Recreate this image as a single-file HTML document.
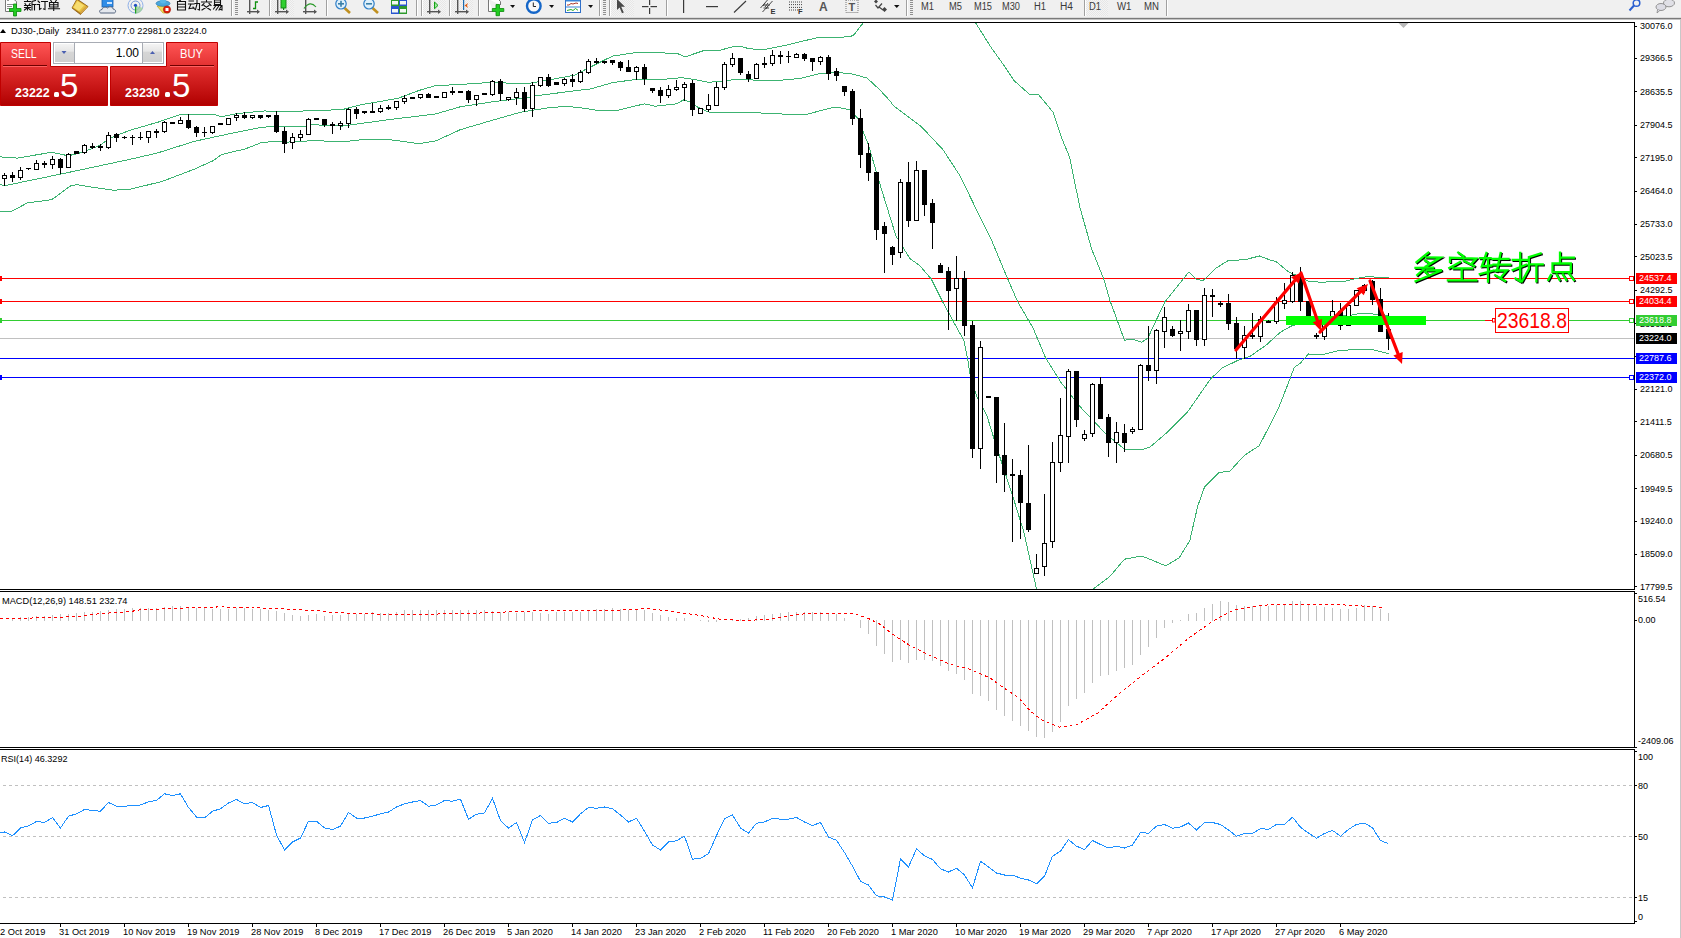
<!DOCTYPE html>
<html><head><meta charset="utf-8"><title>DJ30 Daily</title>
<style>
html,body{margin:0;padding:0;background:#fff;}
body{width:1681px;height:938px;overflow:hidden;position:relative;font-family:"Liberation Sans",sans-serif;}
svg{position:absolute;left:0;top:0;}
</style></head><body>
<svg width="1681" height="938" viewBox="0 0 1681 938">
<rect x="0" y="0" width="1681" height="18" fill="#f0f0f0"/>
<defs><pattern id="chk" width="2" height="2" patternUnits="userSpaceOnUse"><rect width="2" height="2" fill="#f4f4f4"/><rect width="1" height="1" fill="#e6e6e6"/><rect x="1" y="1" width="1" height="1" fill="#e6e6e6"/></pattern></defs>
<rect x="270" y="0" width="24" height="16" fill="url(#chk)"/>
<rect x="422" y="0" width="24" height="16" fill="url(#chk)"/>
<rect x="450" y="0" width="23" height="16" fill="url(#chk)"/>
<rect x="611" y="0" width="23" height="16" fill="url(#chk)"/>
<rect x="1085" y="0" width="23" height="16" fill="url(#chk)"/>
<rect x="231" y="0" width="1" height="16" fill="#a0a0a0"/>
<rect x="232" y="0" width="1" height="16" fill="#ffffff"/>
<rect x="269" y="0" width="1" height="16" fill="#a0a0a0"/>
<rect x="270" y="0" width="1" height="16" fill="#ffffff"/>
<rect x="326" y="0" width="1" height="16" fill="#a0a0a0"/>
<rect x="327" y="0" width="1" height="16" fill="#ffffff"/>
<rect x="416" y="0" width="1" height="16" fill="#a0a0a0"/>
<rect x="417" y="0" width="1" height="16" fill="#ffffff"/>
<rect x="421" y="0" width="1" height="16" fill="#a0a0a0"/>
<rect x="422" y="0" width="1" height="16" fill="#ffffff"/>
<rect x="449" y="0" width="1" height="16" fill="#a0a0a0"/>
<rect x="450" y="0" width="1" height="16" fill="#ffffff"/>
<rect x="478" y="0" width="1" height="16" fill="#a0a0a0"/>
<rect x="479" y="0" width="1" height="16" fill="#ffffff"/>
<rect x="599" y="0" width="1" height="16" fill="#a0a0a0"/>
<rect x="600" y="0" width="1" height="16" fill="#ffffff"/>
<rect x="609" y="0" width="1" height="16" fill="#a0a0a0"/>
<rect x="610" y="0" width="1" height="16" fill="#ffffff"/>
<rect x="666" y="0" width="1" height="16" fill="#a0a0a0"/>
<rect x="667" y="0" width="1" height="16" fill="#ffffff"/>
<rect x="906" y="0" width="1" height="16" fill="#a0a0a0"/>
<rect x="907" y="0" width="1" height="16" fill="#ffffff"/>
<rect x="1084" y="0" width="1" height="16" fill="#a0a0a0"/>
<rect x="1085" y="0" width="1" height="16" fill="#ffffff"/>
<rect x="1166" y="0" width="1" height="16" fill="#a0a0a0"/>
<rect x="1167" y="0" width="1" height="16" fill="#ffffff"/>
<rect x="235" y="0" width="3" height="1" fill="#909090"/>
<rect x="235" y="2" width="3" height="1" fill="#909090"/>
<rect x="235" y="4" width="3" height="1" fill="#909090"/>
<rect x="235" y="6" width="3" height="1" fill="#909090"/>
<rect x="235" y="8" width="3" height="1" fill="#909090"/>
<rect x="235" y="10" width="3" height="1" fill="#909090"/>
<rect x="235" y="12" width="3" height="1" fill="#909090"/>
<rect x="235" y="14" width="3" height="1" fill="#909090"/>
<rect x="603" y="0" width="3" height="1" fill="#909090"/>
<rect x="603" y="2" width="3" height="1" fill="#909090"/>
<rect x="603" y="4" width="3" height="1" fill="#909090"/>
<rect x="603" y="6" width="3" height="1" fill="#909090"/>
<rect x="603" y="8" width="3" height="1" fill="#909090"/>
<rect x="603" y="10" width="3" height="1" fill="#909090"/>
<rect x="603" y="12" width="3" height="1" fill="#909090"/>
<rect x="603" y="14" width="3" height="1" fill="#909090"/>
<rect x="910" y="0" width="3" height="1" fill="#909090"/>
<rect x="910" y="2" width="3" height="1" fill="#909090"/>
<rect x="910" y="4" width="3" height="1" fill="#909090"/>
<rect x="910" y="6" width="3" height="1" fill="#909090"/>
<rect x="910" y="8" width="3" height="1" fill="#909090"/>
<rect x="910" y="10" width="3" height="1" fill="#909090"/>
<rect x="910" y="12" width="3" height="1" fill="#909090"/>
<rect x="910" y="14" width="3" height="1" fill="#909090"/>
<rect x="0" y="17" width="1681" height="1" fill="#dcdcdc"/>
<rect x="0" y="18" width="1681" height="1" fill="#7a7a7a"/>
<rect x="0" y="19" width="1681" height="1" fill="#c4c4c4"/>
<rect x="0" y="20" width="1681" height="2" fill="#ffffff"/>
<path d="M5.5,-1 H13.5 L16.5,1.5 V11.5 H5.5 Z" fill="#fdfdfd" stroke="#7a7a7a" stroke-width="1"/>
<rect x="7" y="0" width="2" height="1" fill="#999"/><rect x="7" y="4" width="6" height="1" fill="#8a8a8a"/><rect x="7" y="6" width="5" height="1" fill="#8a8a8a"/><rect x="7" y="8" width="3" height="1" fill="#8a8a8a"/>
<path d="M13.5,4 H16.5 V8.5 H21 V11.5 H16.5 V16 H13.5 V11.5 H9.5 V8.5 H13.5 Z" fill="#22cc22" stroke="#0a8a0a" stroke-width="0.8"/>
<g stroke="#111" stroke-width="1.1" fill="none" stroke-linecap="square"><path d="M24.5,1.5 H30.5 M27.5,0 V1.5 M25,3.5 L26,5 M30,3.5 L29,5 M24.5,5.5 H30.5 M24.5,7.5 H30.5 M27.5,5.5 V10 M27,8 L24.5,10 M28,8 L30.5,10"/><path d="M35.5,0.5 L32,1.5 V10 M32,4.5 H36 M34.5,4.5 V10"/><path d="M38,1 L39.5,2.5 M37.5,4.5 H39.5 V9.5 L41,8.5 M41.5,1.5 H47.5 M45,1.5 V9.5 L43.5,9"/><path d="M50.5,0 L51.5,1.5 M56.5,0 L55.5,1.5 M49.5,2.5 H58 V7 H49.5 Z M49.5,4.7 H58 M53.7,2.5 V10.5 M48.5,8.7 H59.5"/></g>
<path d="M72,8 L77,-1 L88,6.5 L80.5,14.5 Z" fill="#b07818" stroke="#8a5a10" stroke-width="0.8"/>
<path d="M72.5,7.5 L77,0 L86.5,6 L80,12.5 Z" fill="#e8c040"/>
<path d="M73.5,7.5 L77.5,1 L84,5.5 L79,11 Z" fill="#f6dc70"/>
<path d="M80,12.5 L86.5,6 L88,7 L81,14 Z" fill="#d8a848"/>
<rect x="102" y="-1" width="11" height="8" fill="#2f8de8" stroke="#1760b0" stroke-width="0.8"/><rect x="107" y="2" width="5" height="2" fill="#cfe6ff"/>
<path d="M101,13 C99,13 99,9.5 102,9.5 C102.5,7 106,6.5 107.5,8 C109,6 113,6.5 113,9 C116,9 116.5,13 114,13 Z" fill="#e4e8ee" stroke="#55657f" stroke-width="1"/>
<circle cx="135.5" cy="5.5" r="7.5" fill="none" stroke="#8fb0e8" stroke-width="1"/>
<circle cx="135.5" cy="5.5" r="4.5" fill="none" stroke="#6f95d8" stroke-width="1"/>
<path d="M135.5,5.5 L135.5,13.5 A8,8 0 0 0 143,8 Z" fill="#9ccf9c" opacity="0.8"/>
<rect x="135" y="5" width="1.2" height="8.5" fill="#22a022"/><circle cx="135.5" cy="5.3" r="1.6" fill="#2050c0"/>
<path d="M157,6 L166,6 L169,13 L163,13 Z" fill="#f2dc5a" stroke="#c0a020" stroke-width="0.7"/>
<ellipse cx="163" cy="3.5" rx="7" ry="2.8" fill="#4aa8dc" stroke="#2a78b0" stroke-width="0.7"/><ellipse cx="163" cy="1" rx="3" ry="2.5" fill="#5ab8e8"/>
<circle cx="167" cy="9.5" r="3.6" fill="#e02010" stroke="#a01000" stroke-width="0.6"/><rect x="165.5" y="8" width="3" height="3" fill="#fff"/>
<g stroke="#111" stroke-width="1.1" fill="none" stroke-linecap="square"><path d="M180.5,0 L179.5,1 M177.5,1.5 H185.5 V10 H177.5 Z M177.5,4.2 H185.5 M177.5,7 H185.5"/><path d="M189,1 H193.5 M188.5,4 H194 M191,4 L189,8.5 L194,8 M193,7 L194.5,9 M195,3.5 H199.5 V10 L198,9.5 M197,0.5 V4 L195.5,9.5"/><path d="M206.5,0 V1.5 M201.5,2 H211.5 M204,3.5 L202,5.5 M209,3.5 L211,5.5 M204,5.5 L210.5,10 M209,5.5 L202,10"/><path d="M214.5,0 H220.5 V4.5 H214.5 Z M214.5,2.3 H220.5 M214,5.5 H222 V10 L220.5,9.5 M216,5.5 L213.5,9 M218.5,6.5 L216,10 M221,6.5 L219,10"/></g>
<rect x="249" y="0" width="1.4" height="14" fill="#555"/><rect x="247" y="11" width="12" height="1.4" fill="#555"/><path d="M257,9.5 L260,11.7 L257,14 Z" fill="#555"/>
<path d="M253,8.5 H255.5 V2 H258" fill="none" stroke="#109010" stroke-width="1.3"/>
<rect x="277" y="0" width="1.4" height="14" fill="#555"/><rect x="275" y="11" width="13" height="1.4" fill="#555"/><path d="M286,9.5 L289,11.7 L286,14 Z" fill="#555"/>
<rect x="281" y="-1" width="5" height="9" fill="#30d030" stroke="#108010" stroke-width="0.9"/><rect x="283" y="8" width="1.2" height="2" fill="#108010"/>
<rect x="305" y="0" width="1.4" height="14" fill="#555"/><rect x="303" y="11" width="13" height="1.4" fill="#555"/><path d="M314,9.5 L317,11.7 L314,14 Z" fill="#555"/>
<path d="M304,8.5 Q310,0 316,7" fill="none" stroke="#2a9a2a" stroke-width="1.1"/>
<line x1="344.5" y1="8" x2="350.0" y2="13" stroke="#c09020" stroke-width="2.6"/>
<circle cx="341" cy="3.8" r="5.2" fill="#dff0fb" stroke="#2f7fc8" stroke-width="1.2"/>
<rect x="338.0" y="3" width="6" height="1.6" fill="#3a7fa8"/>
<rect x="340.2" y="0.8" width="1.6" height="6" fill="#3a7fa8"/>
<line x1="372.5" y1="8" x2="378.0" y2="13" stroke="#c09020" stroke-width="2.6"/>
<circle cx="369" cy="3.8" r="5.2" fill="#dff0fb" stroke="#2f7fc8" stroke-width="1.2"/>
<rect x="366.0" y="3" width="6" height="1.6" fill="#3a7fa8"/>
<rect x="391" y="-1" width="8" height="7" fill="#2e9a2e"/><rect x="399" y="-1" width="8" height="7" fill="#2a56d0"/><rect x="391" y="6" width="8" height="8" fill="#2a56d0"/><rect x="399" y="6" width="8" height="8" fill="#2e9a2e"/>
<rect x="392" y="1" width="6" height="3.5" fill="#f4f8f4"/>
<rect x="400" y="1" width="6" height="3.5" fill="#f4f8f4"/>
<rect x="392" y="9" width="6" height="3.5" fill="#f4f8f4"/>
<rect x="400" y="9" width="6" height="3.5" fill="#f4f8f4"/>
<rect x="429" y="0" width="1.4" height="14" fill="#555"/><rect x="427" y="11" width="13" height="1.4" fill="#555"/><path d="M438,9.5 L441,11.7 L438,14 Z" fill="#555"/>
<path d="M434.5,2 L438,5.4 L434.5,8.8 Z" fill="#9be89b" stroke="#12a012" stroke-width="1"/>
<rect x="457" y="0" width="1.4" height="14" fill="#555"/><rect x="455" y="11" width="13" height="1.4" fill="#555"/><path d="M466,9.5 L469,11.7 L466,14 Z" fill="#555"/>
<rect x="463" y="0" width="1.2" height="10" fill="#1a6ab0"/><path d="M464.5,5.4 L468,3 L467,5.4 L469,5.4 L467,5.4 L468,8 Z" fill="#e05a10"/>
<path d="M488.5,-1 V11.5 H493 M488.5,-1 H498 L500.5,1.5 V5" fill="#fff" stroke="#777" stroke-width="1"/>
<path d="M496,4.5 H499.5 V8.5 H503.8 V11.5 H499.5 V15.7 H496 V11.5 H492.3 V8.5 H496 Z" fill="#22cc22" stroke="#0a8a0a" stroke-width="0.8"/>
<path d="M510,5 H515 L512.8,8 Z" fill="#111"/>
<path d="M549,5 H554 L551.8,8 Z" fill="#111"/>
<path d="M588,5 H593 L590.8,8 Z" fill="#111"/>
<circle cx="533.8" cy="6" r="6.8" fill="#f8f8f8" stroke="#1566c8" stroke-width="2.4"/>
<path d="M533.3,2.5 V6.5 H536" fill="none" stroke="#222" stroke-width="1"/>
<rect x="565.5" y="-1" width="15" height="13.5" fill="#fff" stroke="#2f6fc8" stroke-width="1"/><rect x="566" y="-1" width="14" height="2.5" fill="#3a86d8"/><rect x="566" y="6.5" width="14" height="1" fill="#3a86d8"/>
<path d="M567,5 L569,5 L571,3.5 L573,4 L576,3 L578,3.5" fill="none" stroke="#a02010" stroke-width="0.9"/>
<path d="M567,10.5 L569,10 L571,9.5 L573,10.5 L575.5,8.5 L578,10.3" fill="none" stroke="#10a010" stroke-width="0.9"/>
<path d="M617,-1 L625,6.7 L621.2,6.7 L623.8,12.6 L622,13.3 L619.6,7.6 L617,10 Z" fill="#4a4a4a"/>
<rect x="642" y="6" width="6.5" height="1.2" fill="#3a3a3a"/><rect x="650.5" y="6" width="6.5" height="1.2" fill="#3a3a3a"/><rect x="649" y="0" width="1.2" height="5" fill="#3a3a3a"/><rect x="649" y="8" width="1.2" height="6" fill="#3a3a3a"/>
<rect x="683" y="0" width="1.2" height="13" fill="#3a3a3a"/>
<rect x="706" y="6" width="12" height="1.2" fill="#3a3a3a"/>
<line x1="734" y1="12.5" x2="746" y2="1" stroke="#3a3a3a" stroke-width="1.1"/>
<path d="M760.5,8 L767.5,0 M762.5,12 L772.5,1 M763,5 L770,5 M763.5,8 L769,8 M765,3 L763,6 M768,3 L765,7 M768,6 L766,9" stroke="#444" stroke-width="1" fill="none"/><text x="770.5" y="14" font-family="Liberation Sans" font-size="7.5" font-weight="bold" fill="#333">E</text>
<path d="M789,2 H803 M789,4.6 H803 M789,7.4 H803 M789,10 H798" stroke="#444" stroke-width="1" stroke-dasharray="1,1" fill="none"/><text x="798" y="14" font-family="Liberation Sans" font-size="7.5" font-weight="bold" fill="#333">F</text>
<text x="819" y="10.7" font-family="Liberation Sans" font-size="12" font-weight="bold" fill="#555">A</text>
<rect x="846" y="0" width="12" height="12.5" fill="none" stroke="#777" stroke-width="1" stroke-dasharray="1,1"/><text x="848.5" y="10.5" font-family="Liberation Sans" font-size="11" font-weight="bold" fill="#555">T</text>
<path d="M874,1.5 L876,-0.5 L878,1.5 L876,3.5 Z M882,9.5 L884.5,7 L887,9.5 L884.5,12 Z" fill="#444"/><path d="M875.5,5 L878,8 L882,3.5 M879,7 L883,10" stroke="#444" stroke-width="1.2" fill="none"/>
<path d="M894,5 H899.5 L896.75,8 Z" fill="#111"/>
<g font-family="'Liberation Sans', sans-serif" font-size="10" fill="#3a3a3a">
<text x="921" y="10.3" textLength="13.0" lengthAdjust="spacingAndGlyphs">M1</text>
<text x="949" y="10.3" textLength="13.0" lengthAdjust="spacingAndGlyphs">M5</text>
<text x="974" y="10.3" textLength="18.0" lengthAdjust="spacingAndGlyphs">M15</text>
<text x="1002" y="10.3" textLength="18.0" lengthAdjust="spacingAndGlyphs">M30</text>
<text x="1034" y="10.3" textLength="12.0" lengthAdjust="spacingAndGlyphs">H1</text>
<text x="1060" y="10.3" textLength="13.0" lengthAdjust="spacingAndGlyphs">H4</text>
<text x="1089" y="10.3" textLength="12.0" lengthAdjust="spacingAndGlyphs">D1</text>
<text x="1117" y="10.3" textLength="14.5" lengthAdjust="spacingAndGlyphs">W1</text>
<text x="1144" y="10.3" textLength="15.0" lengthAdjust="spacingAndGlyphs">MN</text>
</g>
<circle cx="1636.5" cy="3" r="3.3" fill="none" stroke="#2a5fd0" stroke-width="1.5"/><line x1="1634" y1="5.5" x2="1629.5" y2="10.5" stroke="#2a5fd0" stroke-width="2"/>
<ellipse cx="1669" cy="3" rx="5.5" ry="3.8" fill="#e0e0e6" stroke="#888" stroke-width="0.9"/><ellipse cx="1661" cy="7" rx="5" ry="3.5" fill="#dcdce4" stroke="#888" stroke-width="0.9"/><path d="M1657.5,10 L1657,13 L1660,10.3" fill="#dcdce4" stroke="#888" stroke-width="0.8"/>
<defs><clipPath id="mc"><rect x="0" y="23" width="1634" height="566"/></clipPath><clipPath id="macdc"><rect x="0" y="592" width="1634" height="155"/></clipPath><clipPath id="rsic"><rect x="0" y="750" width="1634" height="173"/></clipPath></defs>
<rect x="0" y="278" width="1634" height="1" fill="#ff0000"/>
<rect x="1629.5" y="276.5" width="4" height="4" fill="#fff" stroke="#ff0000" stroke-width="1"/>
<rect x="0" y="276" width="2" height="5" fill="#ff0000"/>
<rect x="0" y="301" width="1634" height="1" fill="#ff0000"/>
<rect x="1629.5" y="299.5" width="4" height="4" fill="#fff" stroke="#ff0000" stroke-width="1"/>
<rect x="0" y="299" width="2" height="5" fill="#ff0000"/>
<rect x="0" y="320" width="1634" height="1" fill="#32cd32"/>
<rect x="1629.5" y="318.5" width="4" height="4" fill="#fff" stroke="#32cd32" stroke-width="1"/>
<rect x="0" y="318" width="2" height="5" fill="#32cd32"/>
<rect x="0" y="338" width="1634" height="1" fill="#c0c0c0"/>
<rect x="0" y="358" width="1634" height="1" fill="#0000ff"/>
<rect x="0" y="377" width="1634" height="1" fill="#0000ff"/>
<rect x="1629.5" y="375.5" width="4" height="4" fill="#fff" stroke="#0000ff" stroke-width="1"/>
<rect x="0" y="375" width="2" height="5" fill="#0000ff"/>
<g clip-path="url(#mc)" fill="none" stroke="#3cb371" stroke-width="1" shape-rendering="crispEdges">
<polyline points="-1.5,156.8 17.1,158.1 51.7,152.3 68.3,155.8 82.4,152.3 100.3,145.3 106.7,140.2 115.7,135.7 130.5,130.1 158.2,122.1 179.5,114.7 214.7,114.7 221.1,116.8 237.1,113.6 263.7,111.0 297.5,111.2 342.3,109.6 360.5,104.8 397.8,98.4 419.1,90.4 435.1,85.8 473.1,83.7 490.2,82.3 526.4,83.9 547.8,80.1 574.4,75.3 590.4,67.0 612.5,56.1 633.8,52.9 663.6,52.9 678.6,54.0 685.0,56.9 703.1,50.8 719.1,50.5 731.9,47.0 742.2,46.8 748.6,48.6 762.5,50.0 783.8,45.7 815.8,38.0 839.2,37.6 853.1,35.8 862.7,23.5 880.5,0.5 920.5,-29.5 960.5,-4.5 975.4,22.5 990.4,46.4 1005.3,67.3 1014.2,80.7 1029.2,94.1 1038.1,94.1 1053.0,112.1 1062.0,138.9 1069.5,156.8 1079.9,207.5 1091.8,249.4 1103.8,279.2 1109.8,300.1 1124.5,340.2 1132.9,339.1 1141.5,342.3 1147.9,338.0 1164.9,301.8 1182.0,280.5 1188.8,272.0 1195.7,278.9 1202.7,280.7 1208.2,276.1 1216.5,267.8 1227.6,260.9 1245.7,259.5 1259.5,256.0 1270.6,260.2 1276.1,261.6 1288.6,272.0 1301.1,277.5 1309.4,281.7 1320.5,282.1 1342.7,281.7 1359.3,277.9 1367.0,276.6 1377.3,277.2 1388.8,277.9"/>
<polyline points="-1.5,184.3 5.0,185.6 60.7,174.1 130.5,159.2 157.1,153.1 194.5,141.3 226.4,134.4 258.4,128.0 274.4,125.9 290.5,126.8 304.0,126.7 312.5,124.7 342.3,126.1 360.5,123.5 392.4,119.2 435.5,114.0 460.3,106.8 494.5,101.5 526.4,97.7 537.1,95.6 558.4,92.9 574.4,90.8 590.4,89.0 612.5,82.7 633.8,79.7 644.5,79.0 660.5,79.7 681.8,77.6 697.8,80.1 708.4,82.2 719.1,81.7 727.6,80.1 740.5,79.7 776.3,80.6 799.8,78.5 819.0,73.7 837.1,72.6 849.9,73.5 866.9,77.9 879.7,89.7 890.4,101.4 893.2,105.5 920.9,126.2 943.1,149.8 960.1,176.0 975.4,207.5 990.4,237.4 1005.3,273.2 1017.5,301.5 1033.2,328.3 1045.5,357.7 1061.0,382.4 1078.5,405.0 1104.5,432.5 1124.5,449.3 1141.8,449.8 1149.8,447.2 1168.5,431.2 1187.2,412.5 1210.5,379.0 1222.5,367.8 1238.7,360.0 1249.8,356.5 1266.5,344.8 1280.3,332.3 1291.4,326.0 1320.5,318.5 1351.7,315.0 1358.1,313.7 1377.3,314.1 1388.8,315.4"/>
<polyline points="-1.5,211.8 12.0,211.2 27.4,202.9 51.7,199.7 70.9,185.6 77.3,184.7 90.1,186.9 113.1,190.1 128.5,189.7 162.5,181.3 194.5,169.1 213.6,160.5 221.1,154.7 245.6,148.8 260.5,142.9 274.4,141.3 285.5,142.2 312.5,140.7 344.5,141.6 360.5,139.8 392.4,140.0 419.1,143.7 435.5,141.0 460.3,129.7 489.1,121.2 521.1,112.1 547.8,107.9 563.7,106.5 574.4,107.1 585.5,108.5 601.8,111.0 615.7,110.7 644.5,103.8 655.1,106.2 676.4,103.8 683.9,99.8 692.4,103.0 697.8,107.3 708.4,112.0 731.5,112.9 751.8,112.9 769.9,113.1 794.5,115.0 805.1,114.7 831.8,107.8 840.3,107.8 849.9,109.9 858.0,118.5 868.2,144.3 882.1,191.4 895.9,235.8 903.4,248.2 910.1,258.7 919.7,265.5 931.2,278.9 942.7,301.9 954.2,323.0 963.8,340.3 967.7,359.5 970.5,376.8 977.3,397.9 986.9,415.5 996.1,445.7 1011.5,492.1 1023.9,532.3 1036.3,587.9 1045.5,640.5 1070.5,660.5 1085.5,620.5 1093.8,588.5 1109.8,576.5 1124.5,559.2 1141.8,556.0 1165.8,565.8 1179.2,557.8 1189.8,540.5 1197.8,505.8 1204.5,487.2 1219.2,472.5 1229.8,471.2 1244.5,455.2 1259.2,445.8 1277.8,409.8 1288.6,382.5 1294.2,367.5 1300.5,363.0 1308.5,354.0 1322.2,354.7 1337.6,350.8 1355.5,349.5 1373.4,349.9 1388.8,353.7"/>
</g>
<g fill="#000" shape-rendering="crispEdges"><rect x="4" y="173" width="1" height="2"/><rect x="4" y="179" width="1" height="7"/><rect x="2" y="175" width="5" height="4"/><rect x="3" y="176" width="3" height="2" fill="#fff"/><rect x="12" y="172" width="1" height="3"/><rect x="12" y="178" width="1" height="4"/><rect x="10" y="175" width="5" height="3"/><rect x="20" y="167" width="1" height="3"/><rect x="20" y="178" width="1" height="2"/><rect x="18" y="170" width="5" height="8"/><rect x="19" y="171" width="3" height="6" fill="#fff"/><rect x="28" y="169" width="1" height="1"/><rect x="26" y="168" width="5" height="1"/><rect x="36" y="160" width="1" height="3"/><rect x="34" y="163" width="5" height="7"/><rect x="35" y="164" width="3" height="5" fill="#fff"/><rect x="44" y="161" width="1" height="2"/><rect x="44" y="165" width="1" height="3"/><rect x="42" y="163" width="5" height="2"/><rect x="52" y="156" width="1" height="3"/><rect x="52" y="165" width="1" height="4"/><rect x="50" y="159" width="5" height="6"/><rect x="51" y="160" width="3" height="4" fill="#fff"/><rect x="60" y="158" width="1" height="1"/><rect x="60" y="168" width="1" height="6"/><rect x="58" y="159" width="5" height="9"/><rect x="68" y="153" width="1" height="1"/><rect x="66" y="154" width="5" height="14"/><rect x="67" y="155" width="3" height="12" fill="#fff"/><rect x="74" y="151" width="5" height="3"/><rect x="84" y="144" width="1" height="1"/><rect x="84" y="153" width="1" height="1"/><rect x="82" y="145" width="5" height="8"/><rect x="83" y="146" width="3" height="6" fill="#fff"/><rect x="92" y="143" width="1" height="3"/><rect x="92" y="148" width="1" height="1"/><rect x="90" y="146" width="5" height="2"/><rect x="100" y="144" width="1" height="2"/><rect x="100" y="148" width="1" height="3"/><rect x="98" y="146" width="5" height="2"/><rect x="108" y="132" width="1" height="3"/><rect x="108" y="148" width="1" height="1"/><rect x="106" y="135" width="5" height="13"/><rect x="107" y="136" width="3" height="11" fill="#fff"/><rect x="116" y="133" width="1" height="1"/><rect x="116" y="138" width="1" height="4"/><rect x="114" y="134" width="5" height="4"/><rect x="124" y="136" width="1" height="1"/><rect x="124" y="138" width="1" height="1"/><rect x="122" y="137" width="5" height="1"/><rect x="132" y="135" width="1" height="2"/><rect x="132" y="138" width="1" height="7"/><rect x="130" y="137" width="5" height="1"/><rect x="140" y="132" width="1" height="5"/><rect x="140" y="138" width="1" height="2"/><rect x="138" y="137" width="5" height="1"/><rect x="148" y="138" width="1" height="5"/><rect x="146" y="131" width="5" height="7"/><rect x="147" y="132" width="3" height="5" fill="#fff"/><rect x="156" y="129" width="1" height="2"/><rect x="156" y="133" width="1" height="5"/><rect x="154" y="131" width="5" height="2"/><rect x="164" y="121" width="1" height="1"/><rect x="164" y="132" width="1" height="1"/><rect x="162" y="122" width="5" height="10"/><rect x="163" y="123" width="3" height="8" fill="#fff"/><rect x="170" y="122" width="5" height="2"/><rect x="180" y="117" width="1" height="3"/><rect x="178" y="120" width="5" height="4"/><rect x="179" y="121" width="3" height="2" fill="#fff"/><rect x="188" y="114" width="1" height="6"/><rect x="188" y="128" width="1" height="1"/><rect x="186" y="120" width="5" height="8"/><rect x="196" y="126" width="1" height="1"/><rect x="196" y="133" width="1" height="4"/><rect x="194" y="127" width="5" height="6"/><rect x="204" y="127" width="1" height="5"/><rect x="204" y="133" width="1" height="4"/><rect x="202" y="132" width="5" height="1"/><rect x="212" y="133" width="1" height="1"/><rect x="210" y="126" width="5" height="7"/><rect x="211" y="127" width="3" height="5" fill="#fff"/><rect x="218" y="123" width="5" height="2"/><rect x="226" y="118" width="5" height="7"/><rect x="227" y="119" width="3" height="5" fill="#fff"/><rect x="236" y="113" width="1" height="2"/><rect x="236" y="118" width="1" height="3"/><rect x="234" y="115" width="5" height="3"/><rect x="235" y="116" width="3" height="1" fill="#fff"/><rect x="244" y="112" width="1" height="3"/><rect x="244" y="118" width="1" height="1"/><rect x="242" y="115" width="5" height="3"/><rect x="252" y="118" width="1" height="1"/><rect x="250" y="115" width="5" height="3"/><rect x="251" y="116" width="3" height="1" fill="#fff"/><rect x="260" y="118" width="1" height="1"/><rect x="258" y="115" width="5" height="3"/><rect x="268" y="117" width="1" height="1"/><rect x="266" y="115" width="5" height="2"/><rect x="276" y="111" width="1" height="4"/><rect x="276" y="132" width="1" height="1"/><rect x="274" y="115" width="5" height="17"/><rect x="284" y="127" width="1" height="4"/><rect x="284" y="144" width="1" height="9"/><rect x="282" y="131" width="5" height="13"/><rect x="292" y="133" width="1" height="4"/><rect x="292" y="143" width="1" height="6"/><rect x="290" y="137" width="5" height="6"/><rect x="291" y="138" width="3" height="4" fill="#fff"/><rect x="300" y="130" width="1" height="4"/><rect x="300" y="138" width="1" height="3"/><rect x="298" y="134" width="5" height="4"/><rect x="299" y="135" width="3" height="2" fill="#fff"/><rect x="308" y="118" width="1" height="1"/><rect x="306" y="119" width="5" height="16"/><rect x="307" y="120" width="3" height="14" fill="#fff"/><rect x="314" y="118" width="5" height="2"/><rect x="324" y="125" width="1" height="2"/><rect x="322" y="119" width="5" height="6"/><rect x="332" y="122" width="1" height="2"/><rect x="332" y="126" width="1" height="8"/><rect x="330" y="124" width="5" height="2"/><rect x="340" y="121" width="1" height="2"/><rect x="340" y="126" width="1" height="4"/><rect x="338" y="123" width="5" height="3"/><rect x="339" y="124" width="3" height="1" fill="#fff"/><rect x="348" y="108" width="1" height="1"/><rect x="348" y="124" width="1" height="4"/><rect x="346" y="109" width="5" height="15"/><rect x="347" y="110" width="3" height="13" fill="#fff"/><rect x="356" y="107" width="1" height="2"/><rect x="356" y="114" width="1" height="5"/><rect x="354" y="109" width="5" height="5"/><rect x="364" y="113" width="1" height="1"/><rect x="362" y="111" width="5" height="2"/><rect x="372" y="103" width="1" height="8"/><rect x="370" y="111" width="5" height="2"/><rect x="380" y="105" width="1" height="3"/><rect x="380" y="112" width="1" height="1"/><rect x="378" y="108" width="5" height="4"/><rect x="379" y="109" width="3" height="2" fill="#fff"/><rect x="388" y="105" width="1" height="2"/><rect x="388" y="109" width="1" height="1"/><rect x="386" y="107" width="5" height="2"/><rect x="396" y="108" width="1" height="2"/><rect x="394" y="101" width="5" height="7"/><rect x="395" y="102" width="3" height="5" fill="#fff"/><rect x="404" y="95" width="1" height="3"/><rect x="404" y="102" width="1" height="2"/><rect x="402" y="98" width="5" height="4"/><rect x="403" y="99" width="3" height="2" fill="#fff"/><rect x="410" y="97" width="5" height="2"/><rect x="420" y="98" width="1" height="1"/><rect x="418" y="94" width="5" height="4"/><rect x="419" y="95" width="3" height="2" fill="#fff"/><rect x="428" y="93" width="1" height="1"/><rect x="426" y="94" width="5" height="4"/><rect x="434" y="96" width="5" height="2"/><rect x="442" y="92" width="5" height="6"/><rect x="443" y="93" width="3" height="4" fill="#fff"/><rect x="452" y="87" width="1" height="4"/><rect x="452" y="93" width="1" height="2"/><rect x="450" y="91" width="5" height="2"/><rect x="458" y="91" width="5" height="2"/><rect x="468" y="90" width="1" height="1"/><rect x="468" y="100" width="1" height="3"/><rect x="466" y="91" width="5" height="9"/><rect x="476" y="100" width="1" height="6"/><rect x="474" y="95" width="5" height="5"/><rect x="475" y="96" width="3" height="3" fill="#fff"/><rect x="482" y="93" width="5" height="2"/><rect x="492" y="80" width="1" height="1"/><rect x="492" y="95" width="1" height="1"/><rect x="490" y="81" width="5" height="14"/><rect x="491" y="82" width="3" height="12" fill="#fff"/><rect x="500" y="79" width="1" height="2"/><rect x="500" y="94" width="1" height="7"/><rect x="498" y="81" width="5" height="13"/><rect x="508" y="100" width="1" height="1"/><rect x="506" y="97" width="5" height="3"/><rect x="507" y="98" width="3" height="1" fill="#fff"/><rect x="516" y="88" width="1" height="4"/><rect x="516" y="98" width="1" height="7"/><rect x="514" y="92" width="5" height="6"/><rect x="515" y="93" width="3" height="4" fill="#fff"/><rect x="524" y="87" width="1" height="5"/><rect x="524" y="109" width="1" height="3"/><rect x="522" y="92" width="5" height="17"/><rect x="532" y="82" width="1" height="3"/><rect x="532" y="109" width="1" height="8"/><rect x="530" y="85" width="5" height="24"/><rect x="531" y="86" width="3" height="22" fill="#fff"/><rect x="540" y="86" width="1" height="1"/><rect x="538" y="77" width="5" height="9"/><rect x="539" y="78" width="3" height="7" fill="#fff"/><rect x="548" y="74" width="1" height="3"/><rect x="548" y="86" width="1" height="1"/><rect x="546" y="77" width="5" height="9"/><rect x="554" y="82" width="5" height="3"/><rect x="564" y="78" width="1" height="1"/><rect x="564" y="84" width="1" height="2"/><rect x="562" y="79" width="5" height="5"/><rect x="563" y="80" width="3" height="3" fill="#fff"/><rect x="572" y="74" width="1" height="5"/><rect x="572" y="82" width="1" height="5"/><rect x="570" y="79" width="5" height="3"/><rect x="580" y="70" width="1" height="2"/><rect x="580" y="82" width="1" height="1"/><rect x="578" y="72" width="5" height="10"/><rect x="579" y="73" width="3" height="8" fill="#fff"/><rect x="588" y="59" width="1" height="2"/><rect x="588" y="73" width="1" height="1"/><rect x="586" y="61" width="5" height="12"/><rect x="587" y="62" width="3" height="10" fill="#fff"/><rect x="596" y="58" width="1" height="3"/><rect x="596" y="63" width="1" height="1"/><rect x="594" y="61" width="5" height="2"/><rect x="604" y="63" width="1" height="1"/><rect x="602" y="61" width="5" height="2"/><rect x="612" y="63" width="1" height="2"/><rect x="610" y="60" width="5" height="3"/><rect x="620" y="61" width="1" height="1"/><rect x="620" y="68" width="1" height="3"/><rect x="618" y="62" width="5" height="6"/><rect x="628" y="60" width="1" height="7"/><rect x="626" y="67" width="5" height="5"/><rect x="636" y="66" width="1" height="1"/><rect x="636" y="72" width="1" height="8"/><rect x="634" y="67" width="5" height="5"/><rect x="635" y="68" width="3" height="3" fill="#fff"/><rect x="644" y="64" width="1" height="3"/><rect x="644" y="79" width="1" height="6"/><rect x="642" y="67" width="5" height="12"/><rect x="652" y="91" width="1" height="2"/><rect x="650" y="88" width="5" height="3"/><rect x="660" y="87" width="1" height="3"/><rect x="660" y="96" width="1" height="7"/><rect x="658" y="90" width="5" height="6"/><rect x="668" y="85" width="1" height="4"/><rect x="668" y="96" width="1" height="2"/><rect x="666" y="89" width="5" height="7"/><rect x="667" y="90" width="3" height="5" fill="#fff"/><rect x="676" y="80" width="1" height="7"/><rect x="676" y="90" width="1" height="1"/><rect x="674" y="87" width="5" height="3"/><rect x="675" y="88" width="3" height="1" fill="#fff"/><rect x="684" y="82" width="1" height="2"/><rect x="684" y="88" width="1" height="13"/><rect x="682" y="84" width="5" height="4"/><rect x="683" y="85" width="3" height="2" fill="#fff"/><rect x="692" y="80" width="1" height="3"/><rect x="692" y="110" width="1" height="6"/><rect x="690" y="83" width="5" height="27"/><rect x="698" y="108" width="5" height="6"/><rect x="699" y="109" width="3" height="4" fill="#fff"/><rect x="708" y="94" width="1" height="11"/><rect x="708" y="110" width="1" height="2"/><rect x="706" y="105" width="5" height="5"/><rect x="707" y="106" width="3" height="3" fill="#fff"/><rect x="716" y="82" width="1" height="5"/><rect x="714" y="87" width="5" height="19"/><rect x="715" y="88" width="3" height="17" fill="#fff"/><rect x="724" y="62" width="1" height="2"/><rect x="724" y="88" width="1" height="2"/><rect x="722" y="64" width="5" height="24"/><rect x="723" y="65" width="3" height="22" fill="#fff"/><rect x="732" y="53" width="1" height="5"/><rect x="732" y="65" width="1" height="2"/><rect x="730" y="58" width="5" height="7"/><rect x="731" y="59" width="3" height="5" fill="#fff"/><rect x="740" y="73" width="1" height="2"/><rect x="738" y="58" width="5" height="15"/><rect x="748" y="71" width="1" height="3"/><rect x="748" y="79" width="1" height="3"/><rect x="746" y="74" width="5" height="5"/><rect x="756" y="63" width="1" height="1"/><rect x="754" y="64" width="5" height="15"/><rect x="755" y="65" width="3" height="13" fill="#fff"/><rect x="764" y="57" width="1" height="6"/><rect x="764" y="65" width="1" height="3"/><rect x="762" y="63" width="5" height="2"/><rect x="772" y="50" width="1" height="5"/><rect x="772" y="64" width="1" height="2"/><rect x="770" y="55" width="5" height="9"/><rect x="771" y="56" width="3" height="7" fill="#fff"/><rect x="780" y="51" width="1" height="4"/><rect x="780" y="57" width="1" height="7"/><rect x="778" y="55" width="5" height="2"/><rect x="788" y="51" width="1" height="5"/><rect x="788" y="57" width="1" height="6"/><rect x="786" y="56" width="5" height="1"/><rect x="796" y="53" width="1" height="1"/><rect x="794" y="54" width="5" height="4"/><rect x="795" y="55" width="3" height="2" fill="#fff"/><rect x="804" y="53" width="1" height="1"/><rect x="804" y="59" width="1" height="2"/><rect x="802" y="54" width="5" height="5"/><rect x="812" y="62" width="1" height="9"/><rect x="810" y="58" width="5" height="4"/><rect x="820" y="56" width="1" height="1"/><rect x="820" y="62" width="1" height="3"/><rect x="818" y="57" width="5" height="5"/><rect x="819" y="58" width="3" height="3" fill="#fff"/><rect x="828" y="55" width="1" height="2"/><rect x="828" y="74" width="1" height="6"/><rect x="826" y="57" width="5" height="17"/><rect x="836" y="68" width="1" height="3"/><rect x="836" y="76" width="1" height="5"/><rect x="834" y="71" width="5" height="5"/><rect x="844" y="92" width="1" height="4"/><rect x="842" y="86" width="5" height="6"/><rect x="852" y="89" width="1" height="2"/><rect x="852" y="119" width="1" height="6"/><rect x="850" y="91" width="5" height="28"/><rect x="860" y="109" width="1" height="9"/><rect x="860" y="155" width="1" height="13"/><rect x="858" y="118" width="5" height="37"/><rect x="868" y="143" width="1" height="10"/><rect x="868" y="173" width="1" height="8"/><rect x="866" y="153" width="5" height="20"/><rect x="876" y="230" width="1" height="10"/><rect x="874" y="172" width="5" height="58"/><rect x="884" y="222" width="1" height="4"/><rect x="884" y="234" width="1" height="39"/><rect x="882" y="226" width="5" height="8"/><rect x="892" y="246" width="1" height="1"/><rect x="892" y="255" width="1" height="10"/><rect x="890" y="247" width="5" height="8"/><rect x="900" y="179" width="1" height="3"/><rect x="900" y="253" width="1" height="5"/><rect x="898" y="182" width="5" height="71"/><rect x="899" y="183" width="3" height="69" fill="#fff"/><rect x="908" y="162" width="1" height="20"/><rect x="908" y="221" width="1" height="6"/><rect x="906" y="182" width="5" height="39"/><rect x="916" y="161" width="1" height="9"/><rect x="914" y="170" width="5" height="51"/><rect x="915" y="171" width="3" height="49" fill="#fff"/><rect x="924" y="205" width="1" height="11"/><rect x="922" y="170" width="5" height="35"/><rect x="932" y="199" width="1" height="4"/><rect x="932" y="223" width="1" height="26"/><rect x="930" y="203" width="5" height="20"/><rect x="940" y="263" width="1" height="2"/><rect x="938" y="265" width="5" height="8"/><rect x="948" y="267" width="1" height="4"/><rect x="948" y="291" width="1" height="39"/><rect x="946" y="271" width="5" height="20"/><rect x="956" y="256" width="1" height="22"/><rect x="956" y="289" width="1" height="32"/><rect x="954" y="278" width="5" height="11"/><rect x="955" y="279" width="3" height="9" fill="#fff"/><rect x="964" y="271" width="1" height="7"/><rect x="964" y="326" width="1" height="10"/><rect x="962" y="278" width="5" height="48"/><rect x="972" y="321" width="1" height="4"/><rect x="972" y="449" width="1" height="9"/><rect x="970" y="325" width="5" height="124"/><rect x="980" y="341" width="1" height="6"/><rect x="980" y="449" width="1" height="20"/><rect x="978" y="347" width="5" height="102"/><rect x="979" y="348" width="3" height="100" fill="#fff"/><rect x="986" y="396" width="5" height="2"/><rect x="996" y="456" width="1" height="27"/><rect x="994" y="397" width="5" height="59"/><rect x="1004" y="423" width="1" height="32"/><rect x="1004" y="475" width="1" height="17"/><rect x="1002" y="455" width="5" height="20"/><rect x="1012" y="459" width="1" height="15"/><rect x="1012" y="476" width="1" height="66"/><rect x="1010" y="474" width="5" height="2"/><rect x="1020" y="470" width="1" height="5"/><rect x="1020" y="503" width="1" height="36"/><rect x="1018" y="475" width="5" height="28"/><rect x="1028" y="445" width="1" height="58"/><rect x="1028" y="530" width="1" height="2"/><rect x="1026" y="503" width="5" height="27"/><rect x="1036" y="554" width="1" height="14"/><rect x="1034" y="568" width="5" height="6"/><rect x="1035" y="569" width="3" height="4" fill="#fff"/><rect x="1044" y="494" width="1" height="49"/><rect x="1044" y="567" width="1" height="9"/><rect x="1042" y="543" width="5" height="24"/><rect x="1043" y="544" width="3" height="22" fill="#fff"/><rect x="1052" y="442" width="1" height="20"/><rect x="1052" y="542" width="1" height="6"/><rect x="1050" y="462" width="5" height="80"/><rect x="1051" y="463" width="3" height="78" fill="#fff"/><rect x="1060" y="398" width="1" height="37"/><rect x="1060" y="463" width="1" height="9"/><rect x="1058" y="435" width="5" height="28"/><rect x="1059" y="436" width="3" height="26" fill="#fff"/><rect x="1068" y="369" width="1" height="2"/><rect x="1068" y="437" width="1" height="26"/><rect x="1066" y="371" width="5" height="66"/><rect x="1067" y="372" width="3" height="64" fill="#fff"/><rect x="1076" y="420" width="1" height="7"/><rect x="1074" y="371" width="5" height="49"/><rect x="1084" y="430" width="1" height="4"/><rect x="1084" y="439" width="1" height="2"/><rect x="1082" y="434" width="5" height="5"/><rect x="1083" y="435" width="3" height="3" fill="#fff"/><rect x="1092" y="383" width="1" height="1"/><rect x="1092" y="434" width="1" height="3"/><rect x="1090" y="384" width="5" height="50"/><rect x="1091" y="385" width="3" height="48" fill="#fff"/><rect x="1100" y="377" width="1" height="7"/><rect x="1098" y="384" width="5" height="35"/><rect x="1108" y="414" width="1" height="3"/><rect x="1108" y="443" width="1" height="14"/><rect x="1106" y="417" width="5" height="26"/><rect x="1116" y="422" width="1" height="10"/><rect x="1116" y="443" width="1" height="20"/><rect x="1114" y="432" width="5" height="11"/><rect x="1115" y="433" width="3" height="9" fill="#fff"/><rect x="1124" y="424" width="1" height="9"/><rect x="1124" y="443" width="1" height="9"/><rect x="1122" y="433" width="5" height="10"/><rect x="1132" y="427" width="1" height="2"/><rect x="1132" y="432" width="1" height="2"/><rect x="1130" y="429" width="5" height="3"/><rect x="1131" y="430" width="3" height="1" fill="#fff"/><rect x="1140" y="364" width="1" height="1"/><rect x="1138" y="365" width="5" height="65"/><rect x="1139" y="366" width="3" height="63" fill="#fff"/><rect x="1148" y="326" width="1" height="39"/><rect x="1148" y="371" width="1" height="10"/><rect x="1146" y="365" width="5" height="6"/><rect x="1156" y="329" width="1" height="1"/><rect x="1156" y="371" width="1" height="13"/><rect x="1154" y="330" width="5" height="41"/><rect x="1155" y="331" width="3" height="39" fill="#fff"/><rect x="1164" y="307" width="1" height="10"/><rect x="1164" y="332" width="1" height="16"/><rect x="1162" y="317" width="5" height="15"/><rect x="1163" y="318" width="3" height="13" fill="#fff"/><rect x="1172" y="326" width="1" height="3"/><rect x="1172" y="336" width="1" height="1"/><rect x="1170" y="329" width="5" height="7"/><rect x="1180" y="320" width="1" height="11"/><rect x="1180" y="334" width="1" height="17"/><rect x="1178" y="331" width="5" height="3"/><rect x="1179" y="332" width="3" height="1" fill="#fff"/><rect x="1188" y="304" width="1" height="6"/><rect x="1188" y="332" width="1" height="7"/><rect x="1186" y="310" width="5" height="22"/><rect x="1187" y="311" width="3" height="20" fill="#fff"/><rect x="1196" y="340" width="1" height="6"/><rect x="1194" y="310" width="5" height="30"/><rect x="1204" y="288" width="1" height="7"/><rect x="1204" y="340" width="1" height="6"/><rect x="1202" y="295" width="5" height="45"/><rect x="1203" y="296" width="3" height="43" fill="#fff"/><rect x="1212" y="289" width="1" height="6"/><rect x="1212" y="297" width="1" height="20"/><rect x="1210" y="295" width="5" height="2"/><rect x="1220" y="301" width="1" height="2"/><rect x="1220" y="305" width="1" height="2"/><rect x="1218" y="303" width="5" height="2"/><rect x="1228" y="294" width="1" height="9"/><rect x="1228" y="324" width="1" height="6"/><rect x="1226" y="303" width="5" height="21"/><rect x="1236" y="317" width="1" height="6"/><rect x="1236" y="349" width="1" height="10"/><rect x="1234" y="323" width="5" height="26"/><rect x="1244" y="326" width="1" height="9"/><rect x="1244" y="348" width="1" height="11"/><rect x="1242" y="335" width="5" height="13"/><rect x="1243" y="336" width="3" height="11" fill="#fff"/><rect x="1252" y="313" width="1" height="22"/><rect x="1252" y="337" width="1" height="2"/><rect x="1250" y="335" width="5" height="2"/><rect x="1260" y="316" width="1" height="3"/><rect x="1260" y="337" width="1" height="5"/><rect x="1258" y="319" width="5" height="18"/><rect x="1259" y="320" width="3" height="16" fill="#fff"/><rect x="1268" y="320" width="1" height="1"/><rect x="1266" y="321" width="5" height="2"/><rect x="1276" y="297" width="1" height="5"/><rect x="1276" y="322" width="1" height="2"/><rect x="1274" y="302" width="5" height="20"/><rect x="1275" y="303" width="3" height="18" fill="#fff"/><rect x="1284" y="283" width="1" height="17"/><rect x="1284" y="304" width="1" height="5"/><rect x="1282" y="300" width="5" height="4"/><rect x="1283" y="301" width="3" height="2" fill="#fff"/><rect x="1292" y="272" width="1" height="3"/><rect x="1292" y="302" width="1" height="1"/><rect x="1290" y="275" width="5" height="27"/><rect x="1291" y="276" width="3" height="25" fill="#fff"/><rect x="1300" y="267" width="1" height="12"/><rect x="1300" y="302" width="1" height="9"/><rect x="1298" y="279" width="5" height="23"/><rect x="1306" y="301" width="5" height="17"/><rect x="1316" y="333" width="1" height="2"/><rect x="1316" y="337" width="1" height="2"/><rect x="1314" y="335" width="5" height="2"/><rect x="1324" y="337" width="1" height="3"/><rect x="1322" y="324" width="5" height="13"/><rect x="1323" y="325" width="3" height="11" fill="#fff"/><rect x="1332" y="300" width="1" height="11"/><rect x="1330" y="311" width="5" height="14"/><rect x="1331" y="312" width="3" height="12" fill="#fff"/><rect x="1340" y="303" width="1" height="8"/><rect x="1340" y="326" width="1" height="4"/><rect x="1338" y="311" width="5" height="15"/><rect x="1346" y="305" width="5" height="21"/><rect x="1347" y="306" width="3" height="19" fill="#fff"/><rect x="1354" y="290" width="5" height="16"/><rect x="1355" y="291" width="3" height="14" fill="#fff"/><rect x="1364" y="284" width="1" height="1"/><rect x="1364" y="291" width="1" height="2"/><rect x="1362" y="285" width="5" height="6"/><rect x="1363" y="286" width="3" height="4" fill="#fff"/><rect x="1372" y="280" width="1" height="1"/><rect x="1372" y="300" width="1" height="5"/><rect x="1370" y="281" width="5" height="19"/><rect x="1380" y="288" width="1" height="11"/><rect x="1378" y="299" width="5" height="33"/><rect x="1388" y="313" width="1" height="16"/><rect x="1388" y="339" width="1" height="11"/><rect x="1386" y="329" width="5" height="10"/></g>
<rect x="1286" y="316" width="140" height="9" fill="#00ff00"/>
<rect x="1495.5" y="308.5" width="73" height="24" fill="#fff" stroke="#ff0000" stroke-width="1"/>
<rect x="1485" y="320" width="7" height="1" fill="#ff0000"/>
<rect x="1492.5" y="318.5" width="2.5" height="3.5" fill="#fff" stroke="#ff0000" stroke-width="1"/>
<text x="1497" y="328" font-family="'Liberation Sans', sans-serif" font-size="22" fill="#ff0000" textLength="70" lengthAdjust="spacingAndGlyphs">23618.8</text>
<line x1="1236.0" y1="350.0" x2="1294.9" y2="280.4" stroke="#ff0000" stroke-width="3.2" stroke-linecap="round"/><polygon points="1302.0,272.0 1298.7,283.6 1291.1,277.2" fill="#ff0000"/>
<line x1="1301.0" y1="273.0" x2="1317.4" y2="320.6" stroke="#ff0000" stroke-width="3.2" stroke-linecap="round"/><polygon points="1321.0,331.0 1312.7,322.2 1322.1,319.0" fill="#ff0000"/>
<line x1="1320.0" y1="332.0" x2="1360.2" y2="291.8" stroke="#ff0000" stroke-width="3.2" stroke-linecap="round"/><polygon points="1368.0,284.0 1363.8,295.3 1356.7,288.2" fill="#ff0000"/>
<line x1="1370.0" y1="281.0" x2="1398.0" y2="353.7" stroke="#ff0000" stroke-width="3.2" stroke-linecap="round"/><polygon points="1402.0,364.0 1393.4,355.5 1402.7,351.9" fill="#ff0000"/>
<g fill="none" stroke-linecap="square" stroke-linejoin="miter"><path d="M1428.3,252.5 L1416.5,262.2 M1426.3,257.3 L1440.5,257.5 L1425.8,266.5 M1425,260.3 L1429.5,263.2 M1415.5,267.8 L1433,267.6 M1424.6,268.3 L1417.2,275 M1427,270.3 L1442,270.2 L1415.6,281.2 M1425,271.6 L1429.2,275.5 M1458.3,252.6 L1463.5,256.3 M1450,261.8 L1450,257.6 L1476.2,258.6 L1472.5,262.6 M1460,262 L1449.3,268 M1463.8,260.8 L1474.2,266 M1453.3,268.4 L1472.1,268.4 M1461.7,268.4 L1461.7,279.5 M1447.9,280.3 L1476.3,280.3 M1480.2,258.2 L1490.6,258.2 M1486.4,253 L1481.8,266.3 L1491.2,265.5 M1488,260.5 L1488,281.5 M1479.8,274 L1493.5,270.5 M1492.7,258.8 L1508.5,258.8 M1500.6,253 L1496.8,271 M1493.5,264.7 L1510.2,264.7 M1496,270.5 L1506.8,270.5 L1501.8,276.3 M1495.2,275.2 L1505.2,281 M1512.7,259.8 L1527.2,259.8 M1520.2,253 L1520.2,281.3 L1515.5,278.5 M1512.7,270 L1526,264.7 M1540.6,253.5 L1528.9,257.2 L1528.9,268.8 L1522,281.3 M1528.9,264.3 L1542.7,264.3 M1536.4,264.3 L1536.4,281.3 M1560,252.6 L1560,263 M1560,257.6 L1573.8,257.6 M1552.5,263.5 L1570.8,263.5 L1570.8,272.2 L1552.5,272.2 Z M1550.8,275.1 L1548.3,279.9 M1556.7,274.7 L1559.6,279.9 M1562.9,274.7 L1566.3,279.9 M1569.2,273.8 L1573.8,279.9" stroke="#000" stroke-width="2.3" transform="translate(1,1)"/><path d="M1428.3,252.5 L1416.5,262.2 M1426.3,257.3 L1440.5,257.5 L1425.8,266.5 M1425,260.3 L1429.5,263.2 M1415.5,267.8 L1433,267.6 M1424.6,268.3 L1417.2,275 M1427,270.3 L1442,270.2 L1415.6,281.2 M1425,271.6 L1429.2,275.5 M1458.3,252.6 L1463.5,256.3 M1450,261.8 L1450,257.6 L1476.2,258.6 L1472.5,262.6 M1460,262 L1449.3,268 M1463.8,260.8 L1474.2,266 M1453.3,268.4 L1472.1,268.4 M1461.7,268.4 L1461.7,279.5 M1447.9,280.3 L1476.3,280.3 M1480.2,258.2 L1490.6,258.2 M1486.4,253 L1481.8,266.3 L1491.2,265.5 M1488,260.5 L1488,281.5 M1479.8,274 L1493.5,270.5 M1492.7,258.8 L1508.5,258.8 M1500.6,253 L1496.8,271 M1493.5,264.7 L1510.2,264.7 M1496,270.5 L1506.8,270.5 L1501.8,276.3 M1495.2,275.2 L1505.2,281 M1512.7,259.8 L1527.2,259.8 M1520.2,253 L1520.2,281.3 L1515.5,278.5 M1512.7,270 L1526,264.7 M1540.6,253.5 L1528.9,257.2 L1528.9,268.8 L1522,281.3 M1528.9,264.3 L1542.7,264.3 M1536.4,264.3 L1536.4,281.3 M1560,252.6 L1560,263 M1560,257.6 L1573.8,257.6 M1552.5,263.5 L1570.8,263.5 L1570.8,272.2 L1552.5,272.2 Z M1550.8,275.1 L1548.3,279.9 M1556.7,274.7 L1559.6,279.9 M1562.9,274.7 L1566.3,279.9 M1569.2,273.8 L1573.8,279.9" stroke="#00ff00" stroke-width="2.3"/></g>
<g clip-path="url(#macdc)" shape-rendering="crispEdges" fill="#c0c0c0">
<rect x="12" y="619" width="1" height="2"/>
<rect x="20" y="617" width="1" height="4"/>
<rect x="28" y="617" width="1" height="4"/>
<rect x="36" y="616" width="1" height="5"/>
<rect x="44" y="616" width="1" height="5"/>
<rect x="52" y="615" width="1" height="6"/>
<rect x="60" y="614" width="1" height="7"/>
<rect x="68" y="614" width="1" height="7"/>
<rect x="76" y="613" width="1" height="8"/>
<rect x="84" y="612" width="1" height="9"/>
<rect x="92" y="612" width="1" height="9"/>
<rect x="100" y="611" width="1" height="10"/>
<rect x="108" y="610" width="1" height="11"/>
<rect x="116" y="609" width="1" height="12"/>
<rect x="124" y="609" width="1" height="12"/>
<rect x="132" y="608" width="1" height="13"/>
<rect x="140" y="608" width="1" height="13"/>
<rect x="148" y="608" width="1" height="13"/>
<rect x="156" y="608" width="1" height="13"/>
<rect x="164" y="607" width="1" height="14"/>
<rect x="172" y="606" width="1" height="15"/>
<rect x="180" y="606" width="1" height="15"/>
<rect x="188" y="607" width="1" height="14"/>
<rect x="196" y="608" width="1" height="13"/>
<rect x="204" y="608" width="1" height="13"/>
<rect x="212" y="609" width="1" height="12"/>
<rect x="220" y="609" width="1" height="12"/>
<rect x="228" y="609" width="1" height="12"/>
<rect x="236" y="608" width="1" height="13"/>
<rect x="244" y="608" width="1" height="13"/>
<rect x="252" y="609" width="1" height="12"/>
<rect x="260" y="609" width="1" height="12"/>
<rect x="268" y="610" width="1" height="11"/>
<rect x="276" y="611" width="1" height="10"/>
<rect x="284" y="613" width="1" height="8"/>
<rect x="292" y="615" width="1" height="6"/>
<rect x="300" y="616" width="1" height="5"/>
<rect x="308" y="615" width="1" height="6"/>
<rect x="316" y="614" width="1" height="7"/>
<rect x="324" y="616" width="1" height="5"/>
<rect x="332" y="615" width="1" height="6"/>
<rect x="340" y="615" width="1" height="6"/>
<rect x="348" y="614" width="1" height="7"/>
<rect x="356" y="614" width="1" height="7"/>
<rect x="364" y="614" width="1" height="7"/>
<rect x="372" y="612" width="1" height="9"/>
<rect x="380" y="613" width="1" height="8"/>
<rect x="388" y="613" width="1" height="8"/>
<rect x="396" y="612" width="1" height="9"/>
<rect x="404" y="610" width="1" height="11"/>
<rect x="412" y="610" width="1" height="11"/>
<rect x="420" y="610" width="1" height="11"/>
<rect x="428" y="610" width="1" height="11"/>
<rect x="436" y="610" width="1" height="11"/>
<rect x="444" y="610" width="1" height="11"/>
<rect x="452" y="610" width="1" height="11"/>
<rect x="460" y="610" width="1" height="11"/>
<rect x="468" y="610" width="1" height="11"/>
<rect x="476" y="610" width="1" height="11"/>
<rect x="484" y="610" width="1" height="11"/>
<rect x="492" y="611" width="1" height="10"/>
<rect x="500" y="612" width="1" height="9"/>
<rect x="508" y="612" width="1" height="9"/>
<rect x="516" y="613" width="1" height="8"/>
<rect x="524" y="612" width="1" height="9"/>
<rect x="532" y="612" width="1" height="9"/>
<rect x="540" y="613" width="1" height="8"/>
<rect x="548" y="614" width="1" height="7"/>
<rect x="556" y="612" width="1" height="9"/>
<rect x="564" y="612" width="1" height="9"/>
<rect x="572" y="612" width="1" height="9"/>
<rect x="580" y="612" width="1" height="9"/>
<rect x="588" y="610" width="1" height="11"/>
<rect x="596" y="609" width="1" height="12"/>
<rect x="604" y="609" width="1" height="12"/>
<rect x="612" y="608" width="1" height="13"/>
<rect x="620" y="609" width="1" height="12"/>
<rect x="628" y="610" width="1" height="11"/>
<rect x="636" y="610" width="1" height="11"/>
<rect x="644" y="610" width="1" height="11"/>
<rect x="652" y="613" width="1" height="8"/>
<rect x="660" y="615" width="1" height="6"/>
<rect x="668" y="617" width="1" height="4"/>
<rect x="676" y="618" width="1" height="3"/>
<rect x="684" y="618" width="1" height="3"/>
<rect x="700" y="620" width="1" height="1"/>
<rect x="708" y="620" width="1" height="2"/>
<rect x="716" y="620" width="1" height="2"/>
<rect x="732" y="619" width="1" height="2"/>
<rect x="740" y="619" width="1" height="2"/>
<rect x="748" y="618" width="1" height="3"/>
<rect x="756" y="616" width="1" height="5"/>
<rect x="764" y="615" width="1" height="6"/>
<rect x="772" y="614" width="1" height="7"/>
<rect x="780" y="613" width="1" height="8"/>
<rect x="788" y="612" width="1" height="9"/>
<rect x="796" y="612" width="1" height="9"/>
<rect x="804" y="612" width="1" height="9"/>
<rect x="812" y="612" width="1" height="9"/>
<rect x="820" y="612" width="1" height="9"/>
<rect x="828" y="613" width="1" height="8"/>
<rect x="836" y="614" width="1" height="7"/>
<rect x="844" y="618" width="1" height="3"/>
<rect x="860" y="620" width="1" height="8"/>
<rect x="868" y="620" width="1" height="14"/>
<rect x="876" y="620" width="1" height="26"/>
<rect x="884" y="620" width="1" height="34"/>
<rect x="892" y="620" width="1" height="42"/>
<rect x="900" y="620" width="1" height="40"/>
<rect x="908" y="620" width="1" height="43"/>
<rect x="916" y="620" width="1" height="40"/>
<rect x="924" y="620" width="1" height="40"/>
<rect x="932" y="620" width="1" height="41"/>
<rect x="940" y="620" width="1" height="46"/>
<rect x="948" y="620" width="1" height="51"/>
<rect x="956" y="620" width="1" height="54"/>
<rect x="964" y="620" width="1" height="60"/>
<rect x="972" y="620" width="1" height="74"/>
<rect x="980" y="620" width="1" height="76"/>
<rect x="988" y="620" width="1" height="81"/>
<rect x="996" y="620" width="1" height="90"/>
<rect x="1004" y="620" width="1" height="96"/>
<rect x="1012" y="620" width="1" height="101"/>
<rect x="1020" y="620" width="1" height="106"/>
<rect x="1028" y="620" width="1" height="111"/>
<rect x="1036" y="620" width="1" height="117"/>
<rect x="1044" y="620" width="1" height="118"/>
<rect x="1052" y="620" width="1" height="112"/>
<rect x="1060" y="620" width="1" height="102"/>
<rect x="1068" y="620" width="1" height="86"/>
<rect x="1076" y="620" width="1" height="79"/>
<rect x="1084" y="620" width="1" height="73"/>
<rect x="1092" y="620" width="1" height="63"/>
<rect x="1100" y="620" width="1" height="56"/>
<rect x="1108" y="620" width="1" height="55"/>
<rect x="1116" y="620" width="1" height="51"/>
<rect x="1124" y="620" width="1" height="48"/>
<rect x="1132" y="620" width="1" height="45"/>
<rect x="1140" y="620" width="1" height="35"/>
<rect x="1148" y="620" width="1" height="27"/>
<rect x="1156" y="620" width="1" height="18"/>
<rect x="1164" y="620" width="1" height="8"/>
<rect x="1172" y="620" width="1" height="3"/>
<rect x="1180" y="620" width="1" height="1"/>
<rect x="1188" y="614" width="1" height="7"/>
<rect x="1196" y="613" width="1" height="8"/>
<rect x="1204" y="608" width="1" height="13"/>
<rect x="1212" y="604" width="1" height="17"/>
<rect x="1220" y="601" width="1" height="20"/>
<rect x="1228" y="602" width="1" height="19"/>
<rect x="1236" y="605" width="1" height="16"/>
<rect x="1244" y="606" width="1" height="15"/>
<rect x="1252" y="606" width="1" height="15"/>
<rect x="1260" y="606" width="1" height="15"/>
<rect x="1268" y="606" width="1" height="15"/>
<rect x="1276" y="605" width="1" height="16"/>
<rect x="1284" y="604" width="1" height="17"/>
<rect x="1292" y="601" width="1" height="20"/>
<rect x="1300" y="601" width="1" height="20"/>
<rect x="1308" y="604" width="1" height="17"/>
<rect x="1316" y="606" width="1" height="15"/>
<rect x="1324" y="607" width="1" height="14"/>
<rect x="1332" y="608" width="1" height="13"/>
<rect x="1340" y="609" width="1" height="12"/>
<rect x="1348" y="609" width="1" height="12"/>
<rect x="1356" y="608" width="1" height="13"/>
<rect x="1364" y="605" width="1" height="16"/>
<rect x="1372" y="606" width="1" height="15"/>
<rect x="1380" y="609" width="1" height="12"/>
<rect x="1388" y="613" width="1" height="8"/>
</g>
<polyline clip-path="url(#macdc)" fill="none" stroke="#ff0000" stroke-width="1" stroke-dasharray="3,3" shape-rendering="crispEdges" points="0.0,618.8 60.0,617.3 80.0,616.2 100.0,613.6 130.0,611.6 140.0,609.9 180.0,608.1 220.0,606.9 260.0,608.0 290.0,609.2 320.0,611.0 330.0,612.5 380.0,614.2 430.0,614.2 480.0,613.0 510.0,611.8 560.0,610.0 620.0,610.0 650.0,608.5 660.0,610.0 680.0,612.5 700.0,615.5 720.0,619.2 745.0,620.5 770.0,619.2 780.0,617.5 800.0,614.2 820.0,613.0 850.0,613.0 860.0,615.5 870.0,619.2 880.0,624.2 895.0,636.0 910.0,645.5 930.0,655.5 950.0,664.2 970.0,669.2 990.0,678.0 1000.0,685.5 1010.0,691.8 1020.0,699.2 1030.0,710.8 1041.3,719.8 1059.4,727.1 1075.2,725.5 1097.8,713.0 1120.4,692.7 1143.0,674.6 1165.6,657.7 1188.2,638.5 1210.8,622.6 1222.1,615.8 1233.4,610.2 1256.0,606.4 1267.3,605.0 1290.0,604.1 1335.2,604.1 1353.2,605.7 1373.6,606.4 1384.9,607.9"/>
<line x1="3" y1="785.5" x2="1634" y2="785.5" stroke="#c0c0c0" stroke-width="1" stroke-dasharray="3,3"/>
<line x1="3" y1="836.5" x2="1634" y2="836.5" stroke="#c0c0c0" stroke-width="1" stroke-dasharray="3,3"/>
<line x1="3" y1="897.5" x2="1634" y2="897.5" stroke="#c0c0c0" stroke-width="1" stroke-dasharray="3,3"/>
<polyline clip-path="url(#rsic)" fill="none" stroke="#1e90ff" stroke-width="1" shape-rendering="crispEdges" points="-1.5,833.0 4.5,832.0 12.5,835.8 20.5,828.0 28.5,825.8 36.5,821.5 44.5,822.5 52.5,817.5 60.5,828.0 68.5,816.2 76.5,813.8 84.5,809.5 92.5,810.5 100.5,811.2 108.5,802.5 116.5,806.2 124.5,806.2 132.5,805.5 140.5,805.0 148.5,801.8 156.5,800.5 164.5,793.8 172.5,795.5 180.5,793.8 188.5,807.5 196.5,817.0 204.5,818.0 212.5,811.2 220.5,808.8 228.5,803.0 236.5,799.5 244.5,803.8 252.5,802.5 260.5,807.5 268.5,805.5 276.5,835.0 284.5,850.0 292.5,842.0 300.5,838.0 308.5,821.2 316.5,821.2 324.5,828.0 332.5,829.5 340.5,826.2 348.5,812.5 356.5,818.0 364.5,818.0 372.5,816.2 380.5,813.8 388.5,812.0 396.5,807.0 404.5,803.8 412.5,802.0 420.5,800.5 428.5,806.2 436.5,805.0 444.5,800.5 452.5,801.2 460.5,799.2 468.5,819.2 476.5,814.2 484.5,813.0 492.5,798.2 500.5,820.8 508.5,828.0 516.5,822.5 524.5,842.5 532.5,820.0 540.5,815.5 548.5,823.2 556.5,822.5 564.5,818.2 572.5,822.0 580.5,813.8 588.5,807.5 596.5,808.2 604.5,807.0 612.5,808.8 620.5,815.0 628.5,822.0 636.5,818.2 644.5,831.2 652.5,845.0 660.5,850.0 668.5,842.0 676.5,840.8 684.5,836.2 692.5,859.2 700.5,858.2 708.5,853.8 716.5,835.5 724.5,818.8 732.5,815.0 740.5,828.0 748.5,833.2 756.5,823.2 764.5,822.0 772.5,818.2 780.5,819.2 788.5,819.2 796.5,817.5 804.5,822.0 812.5,825.5 820.5,822.5 828.5,837.0 836.5,840.3 844.5,852.5 852.5,866.2 860.5,881.2 868.5,885.0 876.5,895.8 884.5,897.0 892.5,900.0 900.5,858.8 908.5,867.0 916.5,848.8 924.5,855.8 932.5,859.5 940.5,868.8 948.5,872.0 956.5,868.2 964.5,875.0 972.5,888.0 980.5,861.2 988.5,867.0 996.5,873.0 1004.5,875.0 1012.5,875.0 1020.5,878.2 1028.5,880.0 1036.5,883.8 1044.5,876.2 1052.5,856.2 1060.5,851.2 1068.5,839.5 1076.5,846.2 1084.5,849.5 1092.5,840.5 1100.5,844.5 1108.5,848.0 1116.5,846.2 1124.5,848.0 1132.5,845.0 1140.5,832.5 1148.5,833.2 1156.5,826.2 1164.5,824.5 1172.5,828.2 1180.5,827.0 1188.5,823.0 1196.5,830.0 1204.5,822.5 1212.5,822.5 1220.5,824.5 1228.5,830.0 1236.5,836.2 1244.5,833.5 1252.5,833.5 1260.5,828.5 1268.5,829.4 1276.5,824.4 1284.5,824.4 1292.5,817.2 1300.5,827.2 1308.5,833.1 1316.5,838.1 1324.5,833.5 1332.5,830.4 1340.5,836.2 1348.5,829.4 1356.5,824.4 1364.5,823.1 1372.5,827.8 1380.5,840.6 1388.5,843.5"/>
<rect x="0" y="22" width="1635" height="1" fill="#000"/>
<rect x="1634" y="22" width="1" height="568" fill="#000"/>
<rect x="0" y="589" width="1635" height="1" fill="#000"/>
<rect x="0" y="591" width="1635" height="1" fill="#000"/>
<rect x="1634" y="591" width="1" height="157" fill="#000"/>
<rect x="0" y="747" width="1635" height="1" fill="#000"/>
<rect x="0" y="749" width="1635" height="1" fill="#000"/>
<rect x="1634" y="749" width="1" height="175" fill="#000"/>
<rect x="0" y="923" width="1635" height="1" fill="#000"/>
<rect x="1680" y="20" width="1" height="918" fill="#c8c8c8"/>
<g font-family='Liberation Sans', sans-serif font-size="9" fill="#000"><rect x="1635" y="26" width="2" height="1"/><text x="1640" y="28.8">30076.0</text><rect x="1635" y="58" width="2" height="1"/><text x="1640" y="61.2">29366.5</text><rect x="1635" y="91" width="2" height="1"/><text x="1640" y="94.6">28635.5</text><rect x="1635" y="125" width="2" height="1"/><text x="1640" y="128.0">27904.5</text><rect x="1635" y="157" width="2" height="1"/><text x="1640" y="160.5">27195.0</text><rect x="1635" y="191" width="2" height="1"/><text x="1640" y="193.9">26464.0</text><rect x="1635" y="224" width="2" height="1"/><text x="1640" y="227.3">25733.0</text><rect x="1635" y="256" width="2" height="1"/><text x="1640" y="259.7">25023.5</text><rect x="1635" y="290" width="2" height="1"/><text x="1640" y="293.1">24292.5</text><rect x="1635" y="323" width="2" height="1"/><text x="1640" y="326.5">23561.5</text><rect x="1635" y="356" width="2" height="1"/><text x="1640" y="358.9">22852.0</text><rect x="1635" y="389" width="2" height="1"/><text x="1640" y="392.3">22121.0</text><rect x="1635" y="421" width="2" height="1"/><text x="1640" y="424.7">21411.5</text><rect x="1635" y="455" width="2" height="1"/><text x="1640" y="458.1">20680.5</text><rect x="1635" y="488" width="2" height="1"/><text x="1640" y="491.6">19949.5</text><rect x="1635" y="521" width="2" height="1"/><text x="1640" y="524.0">19240.0</text><rect x="1635" y="554" width="2" height="1"/><text x="1640" y="557.4">18509.0</text><rect x="1635" y="586" width="2" height="1"/><text x="1640" y="589.8">17799.5</text></g>
<g font-family="'Liberation Sans', sans-serif" font-size="9"><rect x="1636" y="273" width="41" height="11" fill="#ff0000"/><text x="1639" y="281.3" fill="#fff">24537.4</text><rect x="1636" y="296" width="41" height="11" fill="#ff0000"/><text x="1639" y="304.3" fill="#fff">24034.4</text><rect x="1636" y="315" width="41" height="11" fill="#32cd32"/><text x="1639" y="323.3" fill="#fff">23618.8</text><rect x="1636" y="333" width="41" height="11" fill="#000000"/><text x="1639" y="341.3" fill="#fff">23224.0</text><rect x="1636" y="353" width="41" height="11" fill="#0000ff"/><text x="1639" y="361.3" fill="#fff">22787.6</text><rect x="1636" y="372" width="41" height="11" fill="#0000ff"/><text x="1639" y="380.3" fill="#fff">22372.0</text></g>
<g font-family="'Liberation Sans', sans-serif" font-size="9" fill="#000">
<text x="2" y="603.5" textLength="125.5" lengthAdjust="spacingAndGlyphs">MACD(12,26,9) 148.51 232.74</text>
<text x="1" y="761.5" textLength="66.5" lengthAdjust="spacingAndGlyphs">RSI(14) 46.3292</text>
<rect x="1635" y="593" width="2" height="1"/>
<text x="1638" y="602.0">516.54</text>
<rect x="1635" y="620" width="2" height="1"/>
<text x="1638" y="623.3">0.00</text>
<rect x="1635" y="747" width="2" height="1"/>
<text x="1638" y="744.0">-2409.06</text>
<rect x="1635" y="751" width="2" height="1"/>
<text x="1638" y="760.0">100</text>
<rect x="1635" y="785" width="2" height="1"/>
<text x="1638" y="788.8">80</text>
<rect x="1635" y="836" width="2" height="1"/>
<text x="1638" y="839.8">50</text>
<rect x="1635" y="897" width="2" height="1"/>
<text x="1638" y="901.0">15</text>
<rect x="1635" y="921" width="2" height="1"/>
<text x="1638" y="920.0">0</text>
</g>
<g font-family="'Liberation Sans', sans-serif" font-size="9" fill="#000">
<text x="0" y="935" textLength="45.3" lengthAdjust="spacingAndGlyphs">2 Oct 2019</text>
<rect x="60" y="924" width="1" height="3"/>
<text x="59" y="935" textLength="50.5" lengthAdjust="spacingAndGlyphs">31 Oct 2019</text>
<rect x="124" y="924" width="1" height="3"/>
<text x="123" y="935" textLength="52.5" lengthAdjust="spacingAndGlyphs">10 Nov 2019</text>
<rect x="188" y="924" width="1" height="3"/>
<text x="187" y="935" textLength="52.5" lengthAdjust="spacingAndGlyphs">19 Nov 2019</text>
<rect x="252" y="924" width="1" height="3"/>
<text x="251" y="935" textLength="52.5" lengthAdjust="spacingAndGlyphs">28 Nov 2019</text>
<rect x="316" y="924" width="1" height="3"/>
<text x="315" y="935" textLength="47.4" lengthAdjust="spacingAndGlyphs">8 Dec 2019</text>
<rect x="380" y="924" width="1" height="3"/>
<text x="379" y="935" textLength="52.5" lengthAdjust="spacingAndGlyphs">17 Dec 2019</text>
<rect x="444" y="924" width="1" height="3"/>
<text x="443" y="935" textLength="52.5" lengthAdjust="spacingAndGlyphs">26 Dec 2019</text>
<rect x="508" y="924" width="1" height="3"/>
<text x="507" y="935" textLength="45.8" lengthAdjust="spacingAndGlyphs">5 Jan 2020</text>
<rect x="572" y="924" width="1" height="3"/>
<text x="571" y="935" textLength="51.0" lengthAdjust="spacingAndGlyphs">14 Jan 2020</text>
<rect x="636" y="924" width="1" height="3"/>
<text x="635" y="935" textLength="51.0" lengthAdjust="spacingAndGlyphs">23 Jan 2020</text>
<rect x="700" y="924" width="1" height="3"/>
<text x="699" y="935" textLength="46.9" lengthAdjust="spacingAndGlyphs">2 Feb 2020</text>
<rect x="764" y="924" width="1" height="3"/>
<text x="763" y="935" textLength="51.4" lengthAdjust="spacingAndGlyphs">11 Feb 2020</text>
<rect x="828" y="924" width="1" height="3"/>
<text x="827" y="935" textLength="52.0" lengthAdjust="spacingAndGlyphs">20 Feb 2020</text>
<rect x="892" y="924" width="1" height="3"/>
<text x="891" y="935" textLength="46.9" lengthAdjust="spacingAndGlyphs">1 Mar 2020</text>
<rect x="956" y="924" width="1" height="3"/>
<text x="955" y="935" textLength="52.0" lengthAdjust="spacingAndGlyphs">10 Mar 2020</text>
<rect x="1020" y="924" width="1" height="3"/>
<text x="1019" y="935" textLength="52.0" lengthAdjust="spacingAndGlyphs">19 Mar 2020</text>
<rect x="1084" y="924" width="1" height="3"/>
<text x="1083" y="935" textLength="52.0" lengthAdjust="spacingAndGlyphs">29 Mar 2020</text>
<rect x="1148" y="924" width="1" height="3"/>
<text x="1147" y="935" textLength="44.8" lengthAdjust="spacingAndGlyphs">7 Apr 2020</text>
<rect x="1212" y="924" width="1" height="3"/>
<text x="1211" y="935" textLength="50.0" lengthAdjust="spacingAndGlyphs">17 Apr 2020</text>
<rect x="1276" y="924" width="1" height="3"/>
<text x="1275" y="935" textLength="50.0" lengthAdjust="spacingAndGlyphs">27 Apr 2020</text>
<rect x="1340" y="924" width="1" height="3"/>
<text x="1339" y="935" textLength="48.4" lengthAdjust="spacingAndGlyphs">6 May 2020</text>
</g>
<polygon points="0,33 3,29 6,33" fill="#000"/>
<text x="11" y="34" font-family="'Liberation Sans', sans-serif" font-size="9" fill="#000" textLength="48.2" lengthAdjust="spacingAndGlyphs">DJ30-,Daily</text>
<text x="66" y="34" font-family="'Liberation Sans', sans-serif" font-size="9" fill="#000" textLength="140.7" lengthAdjust="spacingAndGlyphs">23411.0 23777.0 22981.0 23224.0</text>
<polygon points="1398.5,23 1408.5,23 1403.5,28" fill="#b8b8b8"/>
<defs><linearGradient id="rg" x1="0" y1="0" x2="0" y2="1"><stop offset="0" stop-color="#ff5555"/><stop offset="0.45" stop-color="#dd2a2a"/><stop offset="1" stop-color="#b00000"/></linearGradient><linearGradient id="bg2" x1="0" y1="0" x2="0" y2="1"><stop offset="0" stop-color="#f4f4f4"/><stop offset="0.4" stop-color="#e6e6e6"/><stop offset="0.45" stop-color="#d6d6d6"/><stop offset="1" stop-color="#d0d0d0"/></linearGradient></defs>
<rect x="0" y="41" width="219" height="66" fill="#fff"/>
<path d="M0.5,42.5 H50.5 V66.5 H107.5 V105.5 H0.5 Z" fill="url(#rg)" stroke="#c00000" stroke-width="1"/>
<path d="M166.5,42.5 H217.5 V105.5 H110.5 V66.5 H166.5 Z" fill="url(#rg)" stroke="#c00000" stroke-width="1"/>
<rect x="3" y="65" width="44" height="1" fill="#700000"/><rect x="3" y="66" width="44" height="1" fill="#ff6060"/>
<rect x="170" y="65" width="44" height="1" fill="#700000"/><rect x="170" y="66" width="44" height="1" fill="#ff6060"/>
<rect x="53.5" y="42.5" width="110" height="21" fill="#fff" stroke="#a8acb4"/>
<rect x="55" y="44" width="19" height="18" fill="url(#bg2)"/><rect x="74" y="43" width="1" height="20" fill="#a8acb4"/>
<rect x="143" y="44" width="19" height="18" fill="url(#bg2)"/><rect x="142" y="43" width="1" height="20" fill="#a8acb4"/>
<polygon points="61.5,51 66.5,51 64,54" fill="#4a5fb0"/>
<polygon points="150,54 155,54 152.5,51" fill="#4a5fb0"/>
<text x="139" y="57" text-anchor="end" font-family="'Liberation Sans', sans-serif" font-size="12" fill="#000">1.00</text>
<text x="11" y="58" font-family="'Liberation Sans', sans-serif" font-size="12.5" fill="#fff" textLength="25.5" lengthAdjust="spacingAndGlyphs">SELL</text>
<text x="180" y="58" font-family="'Liberation Sans', sans-serif" font-size="12.5" fill="#fff" textLength="23" lengthAdjust="spacingAndGlyphs">BUY</text>
<text x="15" y="97" font-family="'Liberation Sans', sans-serif" font-size="12.5" font-weight="bold" fill="#fff">23222</text>
<rect x="54" y="92" width="5" height="5" rx="1.5" fill="#fff"/>
<text x="60" y="97" font-family="'Liberation Sans', sans-serif" font-size="33" fill="#fff">5</text>
<text x="125" y="97" font-family="'Liberation Sans', sans-serif" font-size="12.5" font-weight="bold" fill="#fff">23230</text>
<rect x="165" y="92" width="5" height="5" rx="1.5" fill="#fff"/>
<text x="172" y="97" font-family="'Liberation Sans', sans-serif" font-size="33" fill="#fff">5</text>
</svg>
</body></html>
